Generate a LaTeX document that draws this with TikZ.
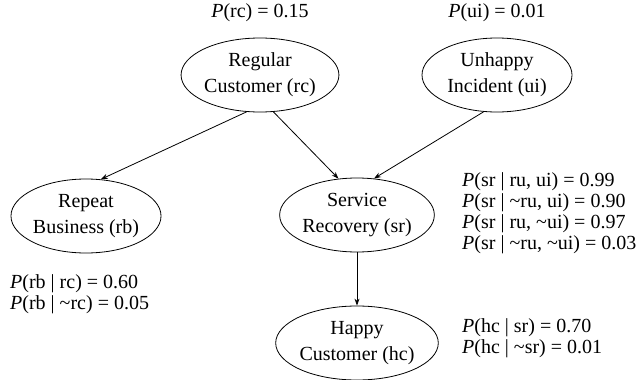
\documentclass[tikz,border=0pt]{standalone}
\usepackage{fontspec}
\setmainfont{Liberation Serif}
\usetikzlibrary{positioning,arrows.meta,shapes.geometric}

\newcommand{\Pb}{\textit{P}}
\newcommand{\nt}{\textasciitilde}

\begin{document}
\begin{tikzpicture}[
  x=1pt, y=-1pt,
  var/.style={draw, ellipse, line width=0.8pt, minimum width=150pt, minimum height=74pt,
              inner sep=0pt, align=center, font=\fontsize{20}{26}\selectfont},
  cpt/.style={align=left, inner sep=0pt, font=\fontsize{20}{21}\selectfont},
  prior/.style={inner sep=0pt, font=\fontsize{20}{21}\selectfont},
  fwd/.style={-{Stealth[length=7pt, width=5pt]}, line width=0.8pt},
]
\useasboundingbox (0,0) rectangle (643,380);

% ---------------- variables ----------------
\node[var] (rc) at (260, 75)  {Regular\\Customer (rc)};
\node[var] (ui) at (497, 75)  {Unhappy\\Incident (ui)};
\node[var] (rb) at (86, 216)  {Repeat\\Business (rb)};
\node[var] (sr) at (357, 215) {Service\\Recovery (sr)};
\node[var] (hc) at (357, 343) {Happy\\Customer (hc)};

% ---------------- edges ----------------
\draw[fwd] (rc.250) -- (rb.68);
\draw[fwd] (rc.290) -- (sr.117);
\draw[fwd] (ui.250) -- (sr.65);
\draw[fwd] (sr) -- (hc);

% ---------------- probability tables ----------------
\node[prior] (prc) at (260, 13) {\Pb(rc) = 0.15};
\node[prior] (pui) at (497, 13) {\Pb(ui) = 0.01};
\node[cpt, anchor=north west] (prb) at (10, 274)
  {\Pb(rb | rc) = 0.60\\\Pb(rb | \nt rc) = 0.05};
\node[cpt, anchor=north west] (psr) at (462, 172)
  {\Pb(sr | ru, ui) = 0.99\\\Pb(sr | \nt ru, ui) = 0.90\\\Pb(sr | ru, \nt ui) = 0.97\\\Pb(sr | \nt ru, \nt ui) = 0.03};
\node[cpt, anchor=north west] (phc) at (462, 318)
  {\Pb(hc | sr) = 0.70\\\Pb(hc | \nt sr) = 0.01};

\end{tikzpicture}
\end{document}
